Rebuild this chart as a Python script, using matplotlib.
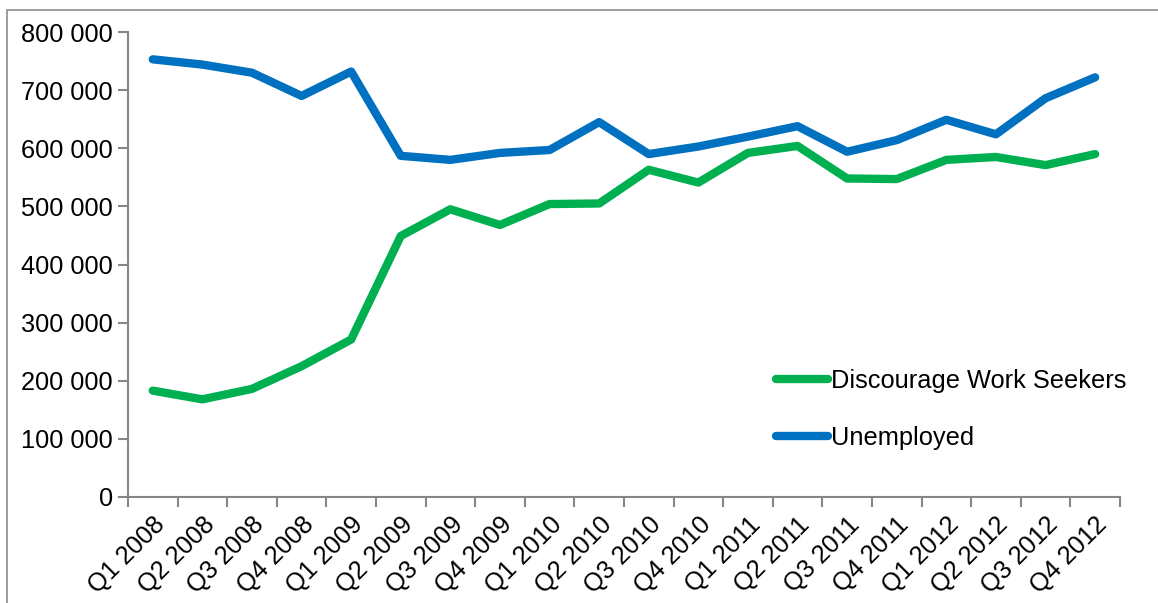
import matplotlib

matplotlib.use("Agg")
import matplotlib.pyplot as plt
from matplotlib.patches import Rectangle
from matplotlib.ticker import FuncFormatter, FixedLocator

plt.rcParams["font.family"] = ["Liberation Sans", "DejaVu Sans"]

quarters = [
    "Q1 2008", "Q2 2008", "Q3 2008", "Q4 2008",
    "Q1 2009", "Q2 2009", "Q3 2009", "Q4 2009",
    "Q1 2010", "Q2 2010", "Q3 2010", "Q4 2010",
    "Q1 2011", "Q2 2011", "Q3 2011", "Q4 2011",
    "Q1 2012", "Q2 2012", "Q3 2012", "Q4 2012",
]
discouraged = [
    183000, 168000, 186000, 225000,
    271000, 449000, 495000, 468000,
    504000, 505000, 563000, 541000,
    592000, 604000, 548000, 547000,
    580000, 585000, 571000, 590000,
]
unemployed = [
    753000, 744000, 730000, 690000,
    732000, 587000, 580000, 592000,
    597000, 645000, 590000, 603000,
    620000, 638000, 594000, 614000,
    649000, 624000, 686000, 722000,
]

GREEN = "#00B050"
BLUE = "#0070C0"
AXIS = "#868686"
FS = 18.3

fig = plt.figure(figsize=(11.58, 6.03), dpi=100)
ax = fig.add_axes([0.1105, 0.1758, 0.8566, 0.7711])

# outer chart frame (cropped at right/bottom in the original)
fig.patches.append(Rectangle((7 / 1158, -0.1), 1.2, 1.1 - 10 / 603,
                             transform=fig.transFigure, fill=False,
                             edgecolor="#8c8c8c", lw=1.2))

x = list(range(len(quarters)))
ax.plot(x, discouraged, color=GREEN, lw=6, solid_capstyle="round",
        solid_joinstyle="round", label="Discourage Work Seekers")
ax.plot(x, unemployed, color=BLUE, lw=6, solid_capstyle="round",
        solid_joinstyle="round", label="Unemployed")

ax.set_xlim(-0.5, len(quarters) - 0.5)
ax.set_ylim(0, 800000)
ax.set_yticks(range(0, 800001, 100000))
ax.yaxis.set_major_formatter(FuncFormatter(lambda v, _: f"{int(v):,}".replace(",", " ")))

ax.set_xticks(x)
ax.set_xticklabels(quarters, rotation=45, ha="right", rotation_mode="anchor")
ax.xaxis.set_minor_locator(FixedLocator([i - 0.5 for i in range(len(quarters) + 1)]))
ax.tick_params(axis="x", which="major", length=0, pad=11, labelsize=FS)
ax.tick_params(axis="x", which="minor", length=7, width=1.5, color=AXIS)
ax.tick_params(axis="y", length=7, width=1.5, color=AXIS, labelsize=FS, pad=4)

for s in ("top", "right"):
    ax.spines[s].set_visible(False)
for s in ("left", "bottom"):
    ax.spines[s].set_color(AXIS)
    ax.spines[s].set_linewidth(1.5)

ax.legend(loc="center left", bbox_to_anchor=(0.64, 0.189), frameon=False,
          fontsize=FS, borderpad=0, handlelength=2.05, handletextpad=0.15,
          labelspacing=1.3)

fig.savefig("out.png", dpi=100)
